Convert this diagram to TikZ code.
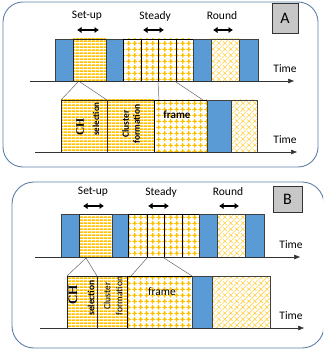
\documentclass[tikz,border=0pt]{standalone}
\usepackage{fontspec}
\setmainfont{Carlito}
\newfontfamily\timesf{Liberation Serif}
\usetikzlibrary{patterns,arrows.meta}
\definecolor{gold}{HTML}{FFC000}
\definecolor{bluef}{HTML}{5B9BD5}
\definecolor{lgold}{HTML}{FFD24D}
\definecolor{frameblue}{HTML}{5C7FA6}
\pgfdeclarepatternformonly{hstripes}{\pgfqpoint{0pt}{0pt}}{\pgfqpoint{4pt}{2.8pt}}{\pgfqpoint{4pt}{2.8pt}}{\pgfpathrectangle{\pgfqpoint{-0.1pt}{0pt}}{\pgfqpoint{4.2pt}{1.6pt}}\pgfusepath{fill}}
\pgfdeclarepatternformonly{dotgrid}{\pgfqpoint{0pt}{0pt}}{\pgfqpoint{6pt}{6pt}}{\pgfqpoint{6pt}{6pt}}{%
\pgfpathcircle{\pgfqpoint{3pt}{3pt}}{1.9pt}\pgfusepath{fill}%
\pgfpathrectangle{\pgfqpoint{0.3pt}{2.3pt}}{\pgfqpoint{5.4pt}{1.4pt}}\pgfusepath{fill}%
\pgfpathrectangle{\pgfqpoint{2.3pt}{0.3pt}}{\pgfqpoint{1.4pt}{5.4pt}}\pgfusepath{fill}}
\pgfdeclarepatternformonly{weave}{\pgfqpoint{-1pt}{-1pt}}{\pgfqpoint{7pt}{7pt}}{\pgfqpoint{6pt}{6pt}}{%
\pgfsetlinewidth{0.7pt}\pgfpathmoveto{\pgfqpoint{0pt}{0pt}}\pgfpathlineto{\pgfqpoint{6pt}{6pt}}%
\pgfpathmoveto{\pgfqpoint{1pt}{4.5pt}}\pgfpathlineto{\pgfqpoint{4.5pt}{1pt}}\pgfusepath{stroke}}
\tikzset{
  panel/.style={draw=frameblue, line width=0.9pt, rounded corners=20pt},
  blueseg/.style={fill=bluef, draw=black!75, line width=0.8pt},
  stripeseg/.style={pattern=hstripes, pattern color=gold, draw=black!85, line width=0.8pt},
  dotseg/.style={pattern=dotgrid, pattern color=gold, draw=black, line width=0.8pt},
  weaveseg/.style={pattern=weave, pattern color=lgold, draw=black!75, line width=0.8pt},
  axis/.style={draw=black!80, line width=0.6pt, -{Triangle[length=6pt,width=4.5pt]}},
  dbl/.style={line width=2.8pt, {Latex[length=4.5pt,width=6.5pt]}-{Latex[length=4.5pt,width=6.5pt]}},
  conn/.style={draw=black!60, line width=0.5pt},
  lbl/.style={font=\fontsize{11.5}{12}\selectfont, inner sep=0pt},
  boxlbl/.style={draw=black!80, fill=black!22, line width=0.7pt, font=\fontsize{16}{16}\selectfont, inner sep=0pt},
  rot/.style={rotate=90, inner sep=0pt, align=center}
}
\begin{document}
\begin{tikzpicture}[x=1pt,y=-1pt]
\useasboundingbox (0,0) rectangle (323,352);
\clip (0,0) rectangle (323,352);
% ===== Panel A =====
\draw[panel] (3,2) rectangle (318,167);
\node[boxlbl, minimum width=26pt, minimum height=30pt] (boxA) at (285,18) {A};
\node[lbl] (suA) at (87,16) {Set-up};
\node[lbl] (stA) at (155,16) {Steady};
\node[lbl] (rdA) at (222,16) {Round};
\coordinate (suA1) at (77,30); \coordinate (suA2) at (99,30);
\coordinate (stA1) at (143,30); \coordinate (stA2) at (164,30);
\coordinate (rdA1) at (213,30); \coordinate (rdA2) at (233,30);
\draw[dbl] (suA1) -- (suA2);
\draw[dbl] (stA1) -- (stA2);
\draw[dbl] (rdA1) -- (rdA2);
% top bar A
\draw[blueseg] (55,39) rectangle (73,81);
\draw[stripeseg] (73,39) rectangle (106,81);
\draw[blueseg] (106,39) rectangle (123,81);
\draw[dotseg] (123,39) rectangle (141,81);
\draw[dotseg] (141,39) rectangle (158,81);
\draw[dotseg] (158,39) rectangle (176,81);
\draw[dotseg] (176,39) rectangle (193,81);
\draw[blueseg] (193,39) rectangle (211,81);
\draw[weaveseg] (211,39) rectangle (239,81);
\draw[blueseg] (239,39) rectangle (258,81);
\coordinate (axA1s) at (30,81); \coordinate (axA1e) at (294,81);
\draw[axis] (axA1s) -- (axA1e);
\node[lbl] (tA1) at (285,69) {Time};
% bottom bar A
\draw[stripeseg] (61,100) rectangle (107,152);
\draw[stripeseg] (107,100) rectangle (154,152);
\draw[dotseg] (154,100) rectangle (207,152);
\draw[blueseg] (207,100) rectangle (231,152);
\draw[weaveseg] (231,100) rectangle (257,152);
\coordinate (axA2s) at (35,152); \coordinate (axA2e) at (297,152);
\draw[axis] (axA2s) -- (axA2e);
\node[lbl] (tA2) at (285,140) {Time};
\node[rot, font=\timesf\bfseries\fontsize{11.5}{11.5}\selectfont] (chA) at (80,127) {CH};
\node[rot, font=\bfseries\fontsize{9}{9}\selectfont] (selA) at (96,119) {selection};
\node[rot, font=\bfseries\fontsize{9.5}{11}\selectfont] (clA) at (131,124) {Cluster\\formation};
\node[font=\bfseries\fontsize{11}{11}\selectfont, inner sep=0pt] (frA) at (177,115) {frame};
% connectors A
\coordinate (cA1) at (78,82); \coordinate (cA2) at (80,82);
\coordinate (cA3) at (158,82); \coordinate (cA4) at (176,82);
\coordinate (dA1) at (61,100); \coordinate (dA2) at (107,100);
\coordinate (dA3) at (159,100); \coordinate (dA4) at (203,100);
\draw[conn] (cA1) -- (dA1);
\draw[conn] (cA2) -- (dA2);
\draw[conn] (cA3) -- (dA3);
\draw[conn] (cA4) -- (dA4);
% ===== Panel B =====
\draw[panel, rounded corners=22pt] (12,182) rectangle (324,348);
\node[boxlbl, minimum width=29pt, minimum height=26pt] (boxB) at (287.5,199) {B};
\node[lbl] (suB) at (93,192) {Set-up};
\node[lbl] (stB) at (161,192) {Steady};
\node[lbl] (rdB) at (228,192) {Round};
\coordinate (suB1) at (83,206); \coordinate (suB2) at (104,206);
\coordinate (stB1) at (148,206); \coordinate (stB2) at (169,206);
\coordinate (rdB1) at (219,206); \coordinate (rdB2) at (239,206);
\draw[dbl] (suB1) -- (suB2);
\draw[dbl] (stB1) -- (stB2);
\draw[dbl] (rdB1) -- (rdB2);
% top bar B
\draw[blueseg] (61,214) rectangle (79,257);
\draw[stripeseg] (79,214) rectangle (112,257);
\draw[blueseg] (112,214) rectangle (128,257);
\draw[dotseg] (128,214) rectangle (147,257);
\draw[dotseg] (147,214) rectangle (164,257);
\draw[dotseg] (164,214) rectangle (182,257);
\draw[dotseg] (182,214) rectangle (199,257);
\draw[blueseg] (199,214) rectangle (217,257);
\draw[weaveseg] (217,214) rectangle (245,257);
\draw[blueseg] (245,214) rectangle (264,257);
\coordinate (axB1s) at (35,257); \coordinate (axB1e) at (300,257);
\draw[axis] (axB1s) -- (axB1e);
\node[lbl] (tB1) at (291,245) {Time};
% bottom bar B
\draw[stripeseg] (67,276) rectangle (97,328);
\draw[stripeseg] (97,276) rectangle (127,328);
\draw[dotseg] (127,276) rectangle (192,328);
\draw[blueseg] (192,276) rectangle (212,328);
\draw[weaveseg] (212,276) rectangle (270,328);
\coordinate (axB2s) at (40,328); \coordinate (axB2e) at (304,328);
\draw[axis] (axB2s) -- (axB2e);
\node[lbl] (tB2) at (291,316) {Time};
\node[rot, font=\timesf\bfseries\fontsize{13}{13}\selectfont] (chB) at (73,295) {CH};
\node[rot, font=\bfseries\fontsize{9.5}{9.5}\selectfont] (selB) at (91,298) {selection};
\node[rot, font=\fontsize{9.5}{12}\selectfont] (clB) at (113,296) {Cluster\\formation};
\node[font=\fontsize{11.5}{11.5}\selectfont, inner sep=0pt] (frB) at (162,292) {frame};
% connectors B
\coordinate (cB1) at (86,258); \coordinate (cB2) at (147,258); \coordinate (cB3) at (164,258);
\coordinate (dB1) at (67,276); \coordinate (dB2) at (97,276);
\coordinate (dB3) at (131,276); \coordinate (dB4) at (192,276);
\draw[conn] (cB1) -- (dB1);
\draw[conn] (cB1) -- (dB2);
\draw[conn] (cB2) -- (dB3);
\draw[conn] (cB3) -- (dB4);
\end{tikzpicture}
\end{document}
